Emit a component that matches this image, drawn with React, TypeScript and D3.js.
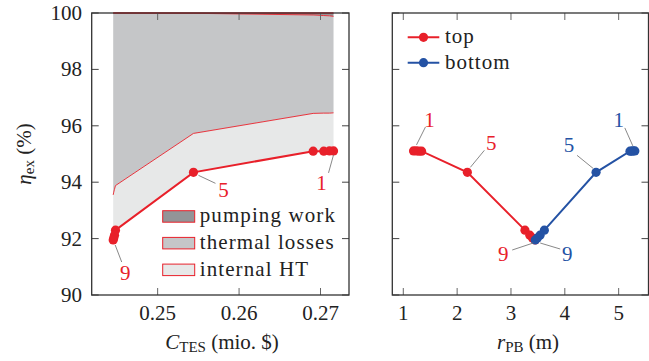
import React from "react";
import * as d3 from "d3";

// Design configurations 1..9
const configIds = [1, 2, 3, 4, 5, 6, 7, 8, 9];
const costTES = [0.2716, 0.2711, 0.2704, 0.2691, 0.2544, 0.24482, 0.2447, 0.24461, 0.24454];
const etaEx = [95.11, 95.11, 95.1, 95.1, 94.35, 92.3, 92.12, 92.02, 91.95];
const lossInternalHT = [1.35, 1.34, 1.35, 1.34, 1.38, 1.58, 1.63, 1.63, 1.6];
const lossThermal = [3.42, 3.45, 3.46, 3.49, 4.26, 6.12, 6.25, 6.35, 6.45];
const lossPumping = [0.12, 0.1, 0.09, 0.07, 0.01, 0, 0, 0, 0];
const rTop = [1.19, 1.24, 1.29, 1.34, 2.19, 3.26, 3.35, 3.4, 3.45];
const rBottom = [5.3, 5.27, 5.24, 5.21, 4.58, 3.62, 3.54, 3.49, 3.45];

const yTicks = [90, 92, 94, 96, 98, 100];
const xTicksLeft = [0.25, 0.26, 0.27];
const xTicksRight = [1, 2, 3, 4, 5];
const legendAreas = ["pumping work", "thermal losses", "internal HT"];
const legendSeries = ["top", "bottom"];
const labelledIds = [1, 5, 9];

const RED = "#e8202a";
const BLUE = "#2452a4";
const GRAY_DARK = "#939497";
const GRAY_MID = "#c5c6c8";
const GRAY_LIGHT = "#e7e8e8";
const AXIS = "#333";
const SERIF = `"Liberation Serif", "Times New Roman", Tinos`;
const TXT: React.CSSProperties = { fontFamily: SERIF };
const CSS = `.chart text, .chart tspan { font-family: "Liberation Serif", "Times New Roman", Tinos !important; }`;

const W = 649;
const H = 361;
const top = 13;
const bottom = 295;
const leftPanel = { x0: 91.7, x1: 349 };
const rightPanel = { x0: 392.3, x1: 648.5 };

const y = d3.scaleLinear().domain([90, 100]).range([bottom, top]);
const xL = d3.scaleLinear().domain([0.2419, 0.2735]).range([leftPanel.x0, leftPanel.x1]);
const xR = d3.scaleLinear().domain([0.796, 5.554]).range([rightPanel.x0, rightPanel.x1]);

type Row = { id: number; c: number; eta: number; ht: number; th: number; pw: number; rt: number; rb: number };
const rows: Row[] = configIds.map((id, i) => ({
  id,
  c: costTES[i],
  eta: etaEx[i],
  ht: lossInternalHT[i],
  th: lossThermal[i],
  pw: lossPumping[i],
  rt: rTop[i],
  rb: rBottom[i],
}));

// label placement relative to the labelled marker: text offset and leader start/end offsets
type LabelPos = Record<number, { tx: number; ty: number; l: [number, number, number, number] }>;
const leftLabelPos: LabelPos = {
  1: { tx: -12, ty: 39, l: [-5, 22, 0, 4] },
  5: { tx: 30, ty: 25, l: [5, 3, 22, 11] },
  9: { tx: 12, ty: 40, l: [2, 5, 8.5, 22] },
};
const topLabelPos: LabelPos = {
  1: { tx: 16, ty: -24, l: [12, -24, 3, -6] },
  5: { tx: 24, ty: -22, l: [17, -22, 3, -5] },
  9: { tx: -32, ty: 21, l: [-23, 10, -2, 3] },
};
const bottomLabelPos: LabelPos = {
  1: { tx: -16, ty: -24, l: [-10, -23, -2, -5] },
  5: { tx: -27, ty: -20, l: [-19, -17, -3, -4] },
  9: { tx: 32, ty: 21, l: [5, 3, 25, 9] },
};

function Frame({ x0, x1, xs, ticks }: { x0: number; x1: number; xs: d3.ScaleLinear<number, number>; ticks: number[] }) {
  const tl = 7;
  return (
    <g>
      {ticks.map((t) => (
        <g key={"x" + t} stroke="#666" strokeWidth={1}>
          <line x1={xs(t)} x2={xs(t)} y1={bottom} y2={bottom - tl} />
          <line x1={xs(t)} x2={xs(t)} y1={top} y2={top + tl} />
        </g>
      ))}
      {yTicks.map((t) => (
        <g key={"y" + t} stroke="#444" strokeWidth={1}>
          <line x1={x0} x2={x0 + tl} y1={y(t)} y2={y(t)} />
          <line x1={x1} x2={x1 - tl} y1={y(t)} y2={y(t)} />
        </g>
      ))}
      <rect x={x0} y={top} width={x1 - x0} height={bottom - top} fill="none" stroke={AXIS} strokeWidth={1.3} />
    </g>
  );
}

export default function App() {
  const htTop = (d: Row) => d.eta + d.ht;
  const thTop = (d: Row) => d.eta + d.ht + d.th;
  const pwTop = (d: Row) => d.eta + d.ht + d.th + d.pw;

  const areaHT = d3.area<Row>().x((d) => xL(d.c)).y0((d) => y(d.eta)).y1((d) => y(htTop(d)));
  const areaTH = d3.area<Row>().x((d) => xL(d.c)).y0((d) => y(htTop(d))).y1((d) => y(thTop(d)));
  const areaPW = d3.area<Row>().x((d) => xL(d.c)).y0((d) => y(thTop(d))).y1((d) => y(pwTop(d)));
  const lineOf = (f: (d: Row) => number) => d3.line<Row>().x((d) => xL(d.c)).y((d) => y(f(d)));
  const etaLine = lineOf((d) => d.eta);
  const topLine = d3.line<Row>().x((d) => xR(d.rt)).y((d) => y(d.eta));
  const botLine = d3.line<Row>().x((d) => xR(d.rb)).y((d) => y(d.eta));

  const legendFills = [GRAY_DARK, GRAY_MID, GRAY_LIGHT];
  const seriesColors = [RED, BLUE];

  const labels = (pos: LabelPos, px: (d: Row) => number, color: string) =>
    rows
      .filter((d) => labelledIds.includes(d.id))
      .map((d) => {
        const p = pos[d.id];
        const cx = px(d);
        const cy = y(d.eta);
        return (
          <g key={d.id}>
            <line x1={cx + p.l[0]} y1={cy + p.l[1]} x2={cx + p.l[2]} y2={cy + p.l[3]} stroke="#7a7a7a" strokeWidth={0.9} />
            <text x={cx + p.tx} y={cy + p.ty} fill={color} fontSize={21} textAnchor="middle" style={TXT}>
              {d.id}
            </text>
          </g>
        );
      });

  return (
    <svg className="chart" width={W} height={H} style={{ position: "absolute", left: 0, top: 0, background: "#fff" }}>
      <style>{CSS}</style>
      <g fontFamily={SERIF}>
        {/* left panel: exergy efficiency vs storage cost */}
        <path d={areaPW(rows)!} fill={GRAY_DARK} stroke="none" />
        <path d={areaTH(rows)!} fill={GRAY_MID} stroke="none" />
        <path d={areaHT(rows)!} fill={GRAY_LIGHT} stroke="none" />
        <path d={lineOf(pwTop)(rows)!} fill="none" stroke={RED} strokeWidth={1.6} />
        <path d={lineOf(thTop)(rows)!} fill="none" stroke={RED} strokeWidth={0.9} />
        <path d={lineOf(htTop)(rows)!} fill="none" stroke={RED} strokeWidth={0.9} />
        <path d={etaLine(rows)!} fill="none" stroke={RED} strokeWidth={2} />
        {rows.map((d) => (
          <circle key={d.id} cx={xL(d.c)} cy={y(d.eta)} r={4.6} fill={RED} />
        ))}
        {labels(leftLabelPos, (d) => xL(d.c), RED)}
        <Frame x0={leftPanel.x0} x1={leftPanel.x1} xs={xL} ticks={xTicksLeft} />

        {legendAreas.map((name, i) => (
          <g key={name} transform={`translate(162.7, ${210.7 + i * 26.7})`}>
            <rect x={0} y={0} width={32} height={11.5} fill={legendFills[i]} stroke={RED} strokeWidth={1} />
            <text x={37} y={11.5} fontSize={21} fill="#222" letterSpacing={1.1} style={TXT}>
              {name}
            </text>
          </g>
        ))}

        {/* right panel: efficiency vs packed-bed radius */}
        <path d={topLine(rows)!} fill="none" stroke={RED} strokeWidth={2} />
        <path d={botLine(rows)!} fill="none" stroke={BLUE} strokeWidth={2} />
        {rows.map((d) => (
          <circle key={"t" + d.id} cx={xR(d.rt)} cy={y(d.eta)} r={4.6} fill={RED} />
        ))}
        {rows.map((d) => (
          <circle key={"b" + d.id} cx={xR(d.rb)} cy={y(d.eta)} r={4.6} fill={BLUE} />
        ))}
        {labels(topLabelPos, (d) => xR(d.rt), RED)}
        {labels(bottomLabelPos, (d) => xR(d.rb), BLUE)}
        <Frame x0={rightPanel.x0} x1={rightPanel.x1} xs={xR} ticks={xTicksRight} />

        {legendSeries.map((name, i) => (
          <g key={name} transform={`translate(407.7, ${37.3 + i * 25.4})`}>
            <line x1={0} x2={31.6} y1={0} y2={0} stroke={seriesColors[i]} strokeWidth={2} />
            <circle cx={15.8} cy={0} r={4.6} fill={seriesColors[i]} />
            <text x={37.3} y={5.8} fontSize={21} fill="#222" letterSpacing={1} style={TXT}>
              {name}
            </text>
          </g>
        ))}

        {/* tick labels */}
        {yTicks.map((t) => (
          <text key={t} x={82} y={y(t) + 7} fontSize={21} textAnchor="end" fill="#222" style={TXT}>
            {t}
          </text>
        ))}
        {xTicksLeft.map((t) => (
          <text key={t} x={xL(t)} y={320} fontSize={21} textAnchor="middle" fill="#222" style={TXT}>
            {d3.format(".2f")(t)}
          </text>
        ))}
        {xTicksRight.map((t) => (
          <text key={t} x={xR(t)} y={320} fontSize={21} textAnchor="middle" fill="#222" style={TXT}>
            {t}
          </text>
        ))}

        {/* axis titles */}
        <text x={222} y={349} fontSize={21} textAnchor="middle" fill="#222" style={TXT}>
          <tspan fontStyle="italic">C</tspan>
          <tspan fontSize={15} dy={3}>TES</tspan>
          <tspan dy={-3}> (mio. $)</tspan>
        </text>
        <text x={528} y={349} fontSize={21} textAnchor="middle" fill="#222" style={TXT}>
          <tspan fontStyle="italic">r</tspan>
          <tspan fontSize={15} dy={3}>PB</tspan>
          <tspan dy={-3}> (m)</tspan>
        </text>
        <text transform="translate(31, 154) rotate(-90)" fontSize={21} textAnchor="middle" fill="#222" style={TXT}>
          <tspan fontStyle="italic">η</tspan>
          <tspan fontSize={15} dy={3}>ex</tspan>
          <tspan dy={-3}> (%)</tspan>
        </text>
      </g>
    </svg>
  );
}
